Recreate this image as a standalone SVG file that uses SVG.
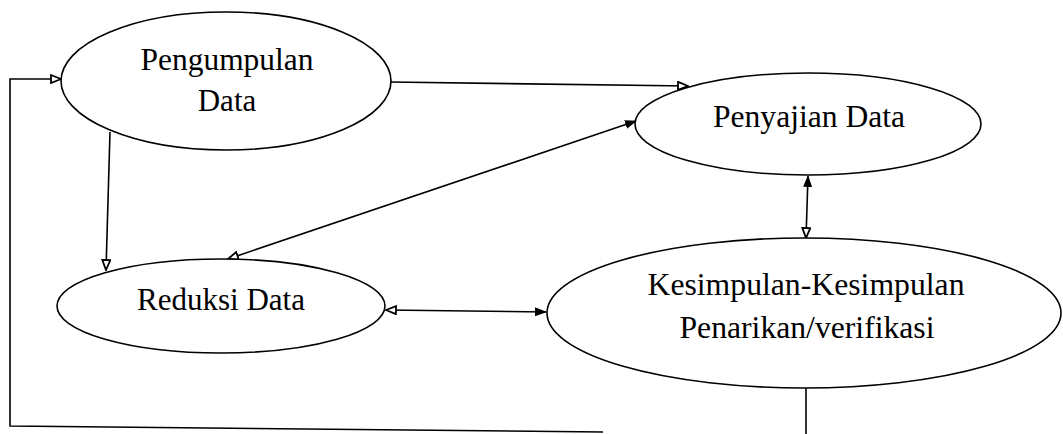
<svg xmlns="http://www.w3.org/2000/svg" width="1063" height="434" viewBox="0 0 1063 434">
<style>
.node{fill:#fff;stroke:#000;stroke-width:1.6}
.lbl{font-family:"Liberation Serif","Times New Roman",serif;font-size:31px;fill:#000;text-anchor:middle}
.edge{fill:none;stroke:#000;stroke-width:1.6}
</style>
<defs>
<marker id="open" viewBox="0 0 12 10" refX="11" refY="5" markerWidth="12" markerHeight="10" markerUnits="userSpaceOnUse" orient="auto-start-reverse">
<path d="M1,1 L11,5 L1,9 Z" fill="#fff" stroke="#000" stroke-width="1.8"/>
</marker>
<marker id="filled" viewBox="0 0 12 10" refX="11" refY="5" markerWidth="12" markerHeight="10" markerUnits="userSpaceOnUse" orient="auto-start-reverse">
<path d="M0,0.5 L12,5 L0,9.5 Z" fill="#000"/>
</marker>
</defs>
<rect width="1063" height="434" fill="#fff"/>
<g id="connectors">
<path class="edge" d="M390,82 L688,86" marker-end="url(#open)"/>
<path class="edge" d="M110,132 L106,270" marker-end="url(#open)"/>
<path class="edge" d="M636,121 L228,259" marker-start="url(#filled)" marker-end="url(#open)"/>
<path class="edge" d="M386,310 L546,312" marker-start="url(#open)" marker-end="url(#filled)"/>
<path class="edge" d="M808,176 L806,238" marker-start="url(#filled)" marker-end="url(#open)"/>
<path class="edge" d="M806,388 L806,434"/>
<path class="edge" d="M603,432 L10,426 L10,79 L61,79" marker-end="url(#open)"/>
</g>
<g id="pengumpulan">
<ellipse class="node" cx="226" cy="81" rx="165" ry="69"/>
<text class="lbl" x="227" y="70" textLength="173" lengthAdjust="spacingAndGlyphs">Pengumpulan</text>
<text class="lbl" x="227" y="111">Data</text>
</g>
<g id="penyajian">
<ellipse class="node" cx="808" cy="124" rx="173" ry="51"/>
<text class="lbl" x="809" y="127" textLength="192" lengthAdjust="spacingAndGlyphs">Penyajian Data</text>
</g>
<g id="reduksi">
<ellipse class="node" cx="221" cy="306" rx="164" ry="47"/>
<text class="lbl" x="221" y="310" textLength="168" lengthAdjust="spacingAndGlyphs">Reduksi Data</text>
</g>
<g id="kesimpulan">
<ellipse class="node" cx="804" cy="313" rx="257" ry="75"/>
<text class="lbl" x="806" y="295" textLength="317" lengthAdjust="spacingAndGlyphs">Kesimpulan-Kesimpulan</text>
<text class="lbl" x="807" y="338" textLength="255" lengthAdjust="spacingAndGlyphs">Penarikan/verifikasi</text>
</g>
</svg>
